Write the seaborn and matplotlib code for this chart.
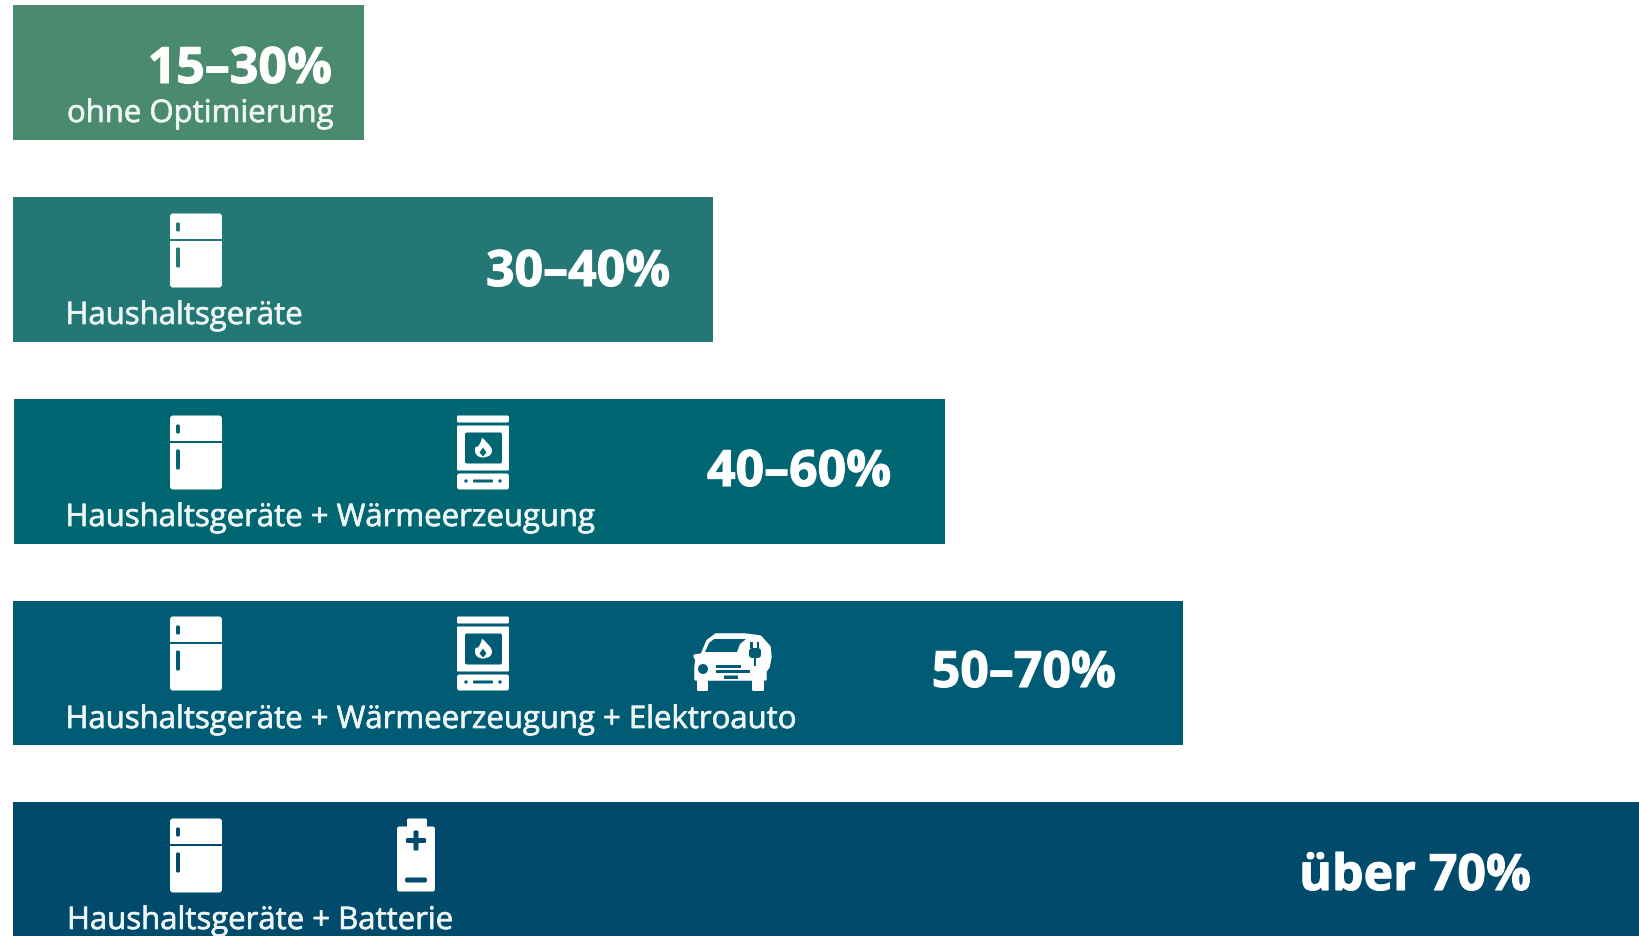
import matplotlib
matplotlib.use("Agg")
import matplotlib.pyplot as plt
import matplotlib.patheffects as pe
from matplotlib.patches import FancyBboxPatch, Rectangle, Polygon, Circle, PathPatch
from matplotlib.path import Path
import pandas as pd
import seaborn as sns

W, H = 1639, 937
stages = ["ohne Optimierung", "Haushaltsgeräte", "Haushaltsgeräte + Wärmeerzeugung",
          "Haushaltsgeräte + Wärmeerzeugung + Elektroauto", "Haushaltsgeräte + Batterie"]
bar_length = [351, 700.5, 931, 1170, 1640]
percent = ["15–30%", "30–40%", "40–60%", "50–70%", "über 70%"]
colors = ["#4a8a6e", "#237876", "#006672", "#005c74", "#004a6c"]

bar_top = [6, 198, 400, 602, 803]
bar_height = [135, 145, 145, 144, 146]
bar_left = [12.5, 12.5, 14, 12.5, 12.5]
icon_top = [0, 200.5, 402.5, 603.5, 805.5]
pct_x = [332, 670, 891, 1116, 1531]
pct_base = [84, 287, 487, 688, 891]
lab_x = [67, 65.5, 65.5, 65.5, 67]
lab_base = [123, 325, 527, 729, 930]
fridge_on = [False, True, True, True, True]
stove_on = [False, False, True, True, False]
car_on = [False, False, False, True, False]
battery_on = [False, False, False, False, True]

sns.set_theme(style="white")
plt.rcParams["font.family"] = ["Open Sans", "DejaVu Sans"]

fig = plt.figure(figsize=(W / 100, H / 100), dpi=100, facecolor="white")
ax = fig.add_axes([0, 0, 1, 1])
df = pd.DataFrame({"stage": stages, "length": bar_length})
sns.barplot(data=df, x="length", y="stage", hue="stage", palette=colors, dodge=False,
            legend=False, orient="h", saturation=1, ax=ax)
ax.set_xlim(0, W)
ax.set_ylim(H, 0)
ax.axis("off")
# Bars have individual geometry in the source; position them in pixel space.
for p, t, h, l in zip(ax.patches, bar_top, bar_height, bar_left):
    p.set_y(t)
    p.set_height(h)
    p.set_x(l)
    p.set_linewidth(0)


def rbox(x0, y0, x1, y1, r, fc):
    return FancyBboxPatch((x0 + r, y0 + r), x1 - x0 - 2 * r, y1 - y0 - 2 * r,
                          boxstyle=f"round,pad={r},rounding_size={r}", fc=fc, ec="none")


def fridge(top, bg):
    x0 = 170
    ax.add_patch(rbox(x0, top + 14, x0 + 52, top + 88, 3, "white"))
    ax.add_patch(Rectangle((x0, top + 39), 52, 2, fc=bg, ec="none"))
    ax.add_patch(rbox(x0 + 6, top + 23, x0 + 10, top + 32, 1.5, bg))
    ax.add_patch(rbox(x0 + 6, top + 48, x0 + 10, top + 68, 1.5, bg))


def stove(top, bg):
    x0 = 457
    ax.add_patch(rbox(x0, top + 14, x0 + 52, top + 21, 1.5, "white"))
    ax.add_patch(rbox(x0, top + 24, x0 + 52, top + 69, 1, "white"))
    ax.add_patch(rbox(x0, top + 72, x0 + 52, top + 88, 2.5, "white"))
    ax.add_patch(rbox(x0 + 8, top + 31, x0 + 45, top + 62, 2, bg))
    ax.add_patch(rbox(x0 + 16, top + 78, x0 + 36, top + 81, 1, bg))
    ax.add_patch(Circle((x0 + 9, top + 79.5), 1.7, fc=bg, ec="none"))
    ax.add_patch(Circle((x0 + 43, top + 79.5), 1.7, fc=bg, ec="none"))
    cx, base = x0 + 26, top + 56
    flame = Path([(cx, base), (cx - 9, base), (cx - 9, base - 9), (cx - 7, base - 11),
                  (cx - 5, base - 9), (cx - 2, base - 15), (cx - 1, base - 20),
                  (cx + 3, base - 16), (cx + 9, base - 11), (cx + 9, base - 7),
                  (cx + 9, base), (cx, base), (cx, base)],
                 [Path.MOVETO, Path.CURVE4, Path.CURVE4, Path.CURVE4,
                  Path.CURVE4, Path.CURVE4, Path.CURVE4,
                  Path.CURVE4, Path.CURVE4, Path.CURVE4,
                  Path.CURVE4, Path.CURVE4, Path.CURVE4])
    ax.add_patch(PathPatch(flame, fc="white", ec="none"))
    ax.add_patch(Polygon([(cx, base - 1), (cx - 3.5, base - 5), (cx, base - 10), (cx + 3.5, base - 5)],
                         fc=bg, ec="none"))


def car(top, bg):
    # Coordinates follow the zoomed icon: x 693..772, y 635..692
    dy = top - 603.5
    Y = lambda v: v + dy
    body = [(695, 657), (702, 656), (708, 642), (716, 636), (745, 636), (760, 638), (769, 648),
            (770, 658), (768, 668), (765, 672), (765, 680), (696, 680), (696, 668), (697, 661)]
    ax.add_patch(Polygon([(a, Y(b)) for a, b in body], closed=True, fc="white", ec="white", lw=2.5,
                         joinstyle="round"))
    ax.add_patch(rbox(697, Y(678), 708, Y(692), 1.5, "white"))
    ax.add_patch(rbox(752, Y(678), 764, Y(692), 1.5, "white"))
    ax.add_patch(Polygon([(705, Y(653)), (709, Y(644)), (714, Y(640)), (746, Y(640)), (740, Y(645)),
                          (737, Y(653))], fc=bg, ec="none"))
    ax.add_patch(Circle((703, Y(670)), 5, fc=bg, ec="none"))
    for y, x1 in [(666, 741), (671, 750)]:
        ax.add_patch(Rectangle((716, Y(y)), x1 - 716, 2.6, fc=bg, ec="none"))
    ax.add_patch(rbox(724, Y(676.5), 738, Y(680), 0.5, bg))
    # plug
    ax.add_patch(Rectangle((750, Y(643)), 2.5, 6, fc=bg, ec="none"))
    ax.add_patch(Rectangle((756.5, Y(643)), 2.5, 6, fc=bg, ec="none"))
    ax.add_patch(rbox(749, Y(649), 761, Y(659), 3.5, bg))
    ax.add_patch(Rectangle((753.7, Y(658)), 2.4, 9, fc=bg, ec="none"))


def battery(top, bg):
    ax.add_patch(rbox(407, top + 14, 427, top + 27, 1.5, "white"))
    ax.add_patch(rbox(397, top + 22, 435, top + 87, 2.5, "white"))
    ax.add_patch(rbox(406, top + 33.5, 426, top + 38.5, 1.5, bg))
    ax.add_patch(rbox(413.5, top + 26, 418.5, top + 46, 1.5, bg))
    ax.add_patch(rbox(405, top + 73, 427, top + 78, 2, bg))


for i in range(len(stages)):
    top, bg = icon_top[i], colors[i]
    if fridge_on[i]:
        fridge(top, bg)
    if stove_on[i]:
        stove(top, bg)
    if car_on[i]:
        car(top, bg)
    if battery_on[i]:
        battery(top, bg)
    ax.text(pct_x[i], pct_base[i], percent[i], color="white", fontsize=36, fontweight="bold",
            ha="right", va="baseline", path_effects=[pe.withStroke(linewidth=0.8, foreground="white")])
    ax.text(lab_x[i], lab_base[i], stages[i], color="#eef5f5", fontsize=22.4, ha="left", va="baseline",
            path_effects=[pe.withStroke(linewidth=0.5, foreground="#eef5f5")])

fig.savefig("out.png", dpi=100)
